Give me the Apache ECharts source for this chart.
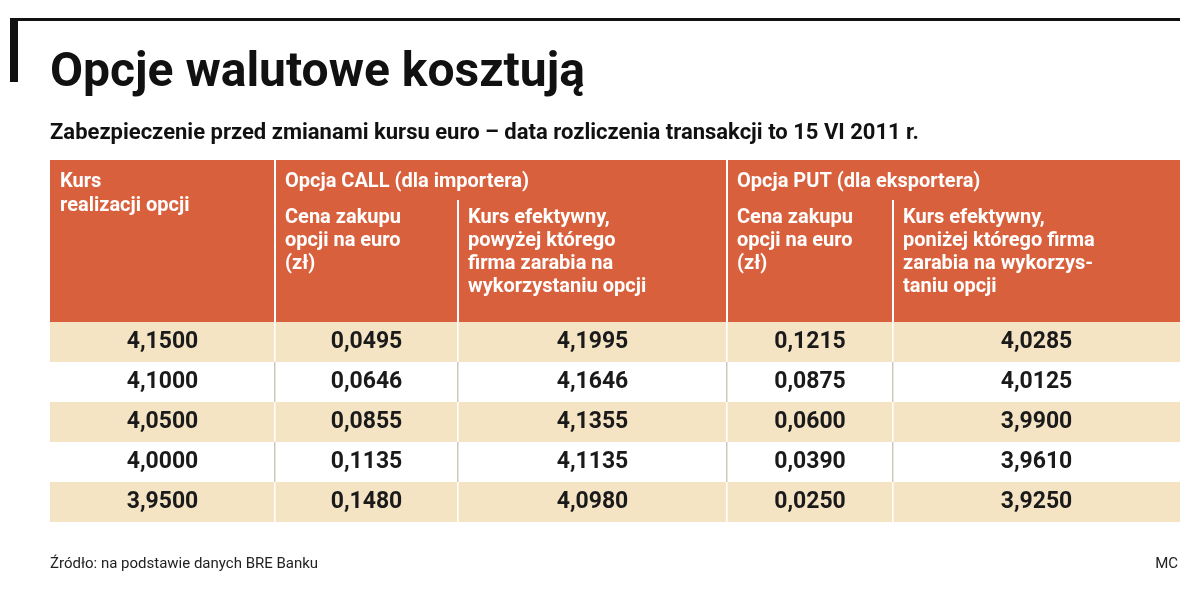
<!DOCTYPE html>
<html>
<head>
    <meta charset="utf-8">
    <title>Opcje walutowe kosztują</title>
    <script src="https://cdn.jsdelivr.net/npm/echarts@6/dist/echarts.min.js"></script>
    <style>body{margin:0;background:#fff}</style>
</head>
<body>
<div id="main" style="width:1200px;height:594px;"></div>
<script type="text/javascript">
    // dane tabeli
    var kursy = ['4,1500', '4,1000', '4,0500', '4,0000', '3,9500'];
    var callCena = ['0,0495', '0,0646', '0,0855', '0,1135', '0,1480'];
    var callKurs = ['4,1995', '4,1646', '4,1355', '4,1135', '4,0980'];
    var putCena = ['0,1215', '0,0875', '0,0600', '0,0390', '0,0250'];
    var putKurs = ['4,0285', '4,0125', '3,9900', '3,9610', '3,9250'];

    var naglowekGrupy = ['Kurs\nrealizacji opcji', 'Opcja CALL (dla importera)', 'Opcja PUT (dla eksportera)'];
    var naglowekKolumn = ['Cena zakupu\nopcji na euro\n(zł)', 'Kurs efektywny,\npowyżej którego\nfirma zarabia na\nwykorzystaniu opcji',
        'Cena zakupu\nopcji na euro\n(zł)', 'Kurs efektywny,\nponiżej którego firma\nzarabia na wykorzys-\ntaniu opcji'];

    var chart = echarts.init(document.getElementById('main'));
    var cols = [50, 275, 458, 727, 893, 1180];
    var top0 = 160, headH = 162, rowH = 40;
    var orange = '#d9603c', beige = '#f4e4c4';
    var font = '"Liberation Sans Narrow", "Roboto", sans-serif';

    var g = [];
    // ramka
    g.push({type: 'rect', shape: {x: 10, y: 18, width: 8, height: 64}, style: {fill: '#111'}});
    g.push({type: 'rect', shape: {x: 10, y: 18, width: 1170, height: 3}, style: {fill: '#111'}});
    g.push({type: 'text', x: 50, y: 50, style: {text: 'Opcje walutowe kosztują', fill: '#111',
        font: 'bold 48px ' + font}});
    g.push({type: 'text', x: 50, y: 122, style: {text: 'Zabezpieczenie przed zmianami kursu euro – data rozliczenia transakcji to 15 VI 2011 r.',
        fill: '#111', font: 'bold 22px "Roboto", sans-serif'}});

    // nagłówek
    g.push({type: 'rect', shape: {x: cols[0], y: top0, width: cols[5] - cols[0], height: headH}, style: {fill: orange}});
    [cols[1], cols[3]].forEach(function (x) {
        g.push({type: 'rect', shape: {x: x - 1, y: top0, width: 2, height: headH}, style: {fill: '#fff'}});
    });
    [cols[2], cols[4]].forEach(function (x) {
        g.push({type: 'rect', shape: {x: x - 1, y: top0 + 40, width: 2, height: headH - 40}, style: {fill: '#fff'}});
    });
    [0, 1, 3].forEach(function (c, i) {
        g.push({type: 'text', x: cols[c] + 10, y: top0 + 10, style: {text: naglowekGrupy[i], fill: '#fff',
            font: 'bold 20px "Roboto", sans-serif', lineHeight: 24}});
    });
    naglowekKolumn.forEach(function (t, i) {
        var c = [1, 2, 3, 4][i];
        g.push({type: 'text', x: cols[c] + 10, y: top0 + 46, style: {text: t, fill: '#fff',
            font: 'bold 20px "Roboto", sans-serif', lineHeight: 23}});
    });

    // wiersze
    var kolumny = [kursy, callCena, callKurs, putCena, putKurs];
    kursy.forEach(function (_, r) {
        var y = top0 + headH + r * rowH;
        g.push({type: 'rect', shape: {x: cols[0], y: y, width: cols[5] - cols[0], height: rowH},
            style: {fill: r % 2 === 0 ? beige : '#fff'}});
        for (var c = 1; c < 5; c++) {
            g.push({type: 'rect', shape: {x: cols[c] - 1, y: y, width: 1.5, height: rowH},
                style: {fill: r % 2 === 0 ? '#fff' : '#cfc8bd'}});
        }
        kolumny.forEach(function (col, c) {
            g.push({type: 'text', x: (cols[c] + cols[c + 1]) / 2, y: y + rowH / 2, style: {text: col[r],
                fill: '#1a1a1a', font: 'bold 23px "Roboto", sans-serif', align: 'center', verticalAlign: 'middle'}});
        });
    });

    g.push({type: 'text', x: 50, y: 557, style: {text: 'Źródło: na podstawie danych BRE Banku', fill: '#222',
        font: '15px "Roboto", sans-serif'}});
    g.push({type: 'text', x: 1178, y: 557, style: {text: 'MC', fill: '#222', align: 'right',
        font: '15px "Roboto", sans-serif'}});

    chart.setOption({graphic: {elements: g}});
</script>
</body>
</html>
